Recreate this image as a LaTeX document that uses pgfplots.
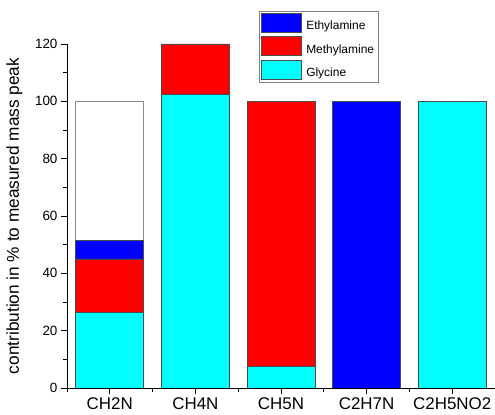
\documentclass[border=0pt]{standalone}
\usepackage{fontspec}
\setmainfont{Liberation Sans}
\usepackage{pgfplots}
\pgfplotsset{compat=1.18}
\definecolor{cglyc}{RGB}{0,255,255}
\definecolor{cmeth}{RGB}{255,0,0}
\definecolor{ceth}{RGB}{0,0,255}
\begin{document}
\begin{tikzpicture}
\path[use as bounding box] (-67bp,-27bp) rectangle (428bp,388bp);
\pgfplotsset{common/.style={
  at={(0,0)}, anchor=south west, scale only axis, width=428bp, height=344bp,
  xmin=-0.5, xmax=4.5, ymin=0, ymax=120, bar width=68bp}}
\begin{axis}[common, hide axis, ybar]
\addplot[fill=white, draw=black!45, line width=0.8bp] coordinates {(0,100)};
\end{axis}
\begin{axis}[common, ybar stacked,
  axis x line*=bottom, axis y line*=left,
  axis line style={line width=0.8bp},
  tick align=outside,
  xtick={0,1,2,3,4}, xticklabels={CH2N,CH4N,CH5N,C2H7N,C2H5NO2},
  minor xtick={-0.5,0.5,1.5,2.5,3.5,4.5},
  ytick={0,20,...,120}, minor ytick={10,30,...,110},
  major tick length=6bp, minor tick length=3.5bp,
  every tick/.style={black, line width=0.8bp},
  /pgf/number format/assume math mode=true,
  yticklabel style={font=\fontsize{13.5}{13.5}\selectfont},
  xticklabel style={font=\fontsize{17}{17}\selectfont},
  ylabel={contribution in \% to measured mass peak},
  ylabel style={font=\fontsize{17.3}{17.3}\selectfont, at={(rel axis cs:-0.1227,0.5)}, anchor=center},
  reverse legend,
  legend cell align=left,
  legend style={at={(0.4486,1.0968)}, anchor=north west, draw=black!50, fill=white,
    inner xsep=2bp, inner ysep=2bp, row sep=3bp,
    font=\fontsize{12}{12}\selectfont,
    /tikz/every odd column/.append style={column sep=2.5bp}},
  legend image code/.code={\draw[#1] (0bp,-6bp) rectangle (40bp,13bp);},
]
\addplot[fill=cglyc, draw=black!70, line width=0.6bp] coordinates {(0,26.5) (1,102.5) (2,7.5) (3,0) (4,100)};
\addplot[fill=cmeth, draw=black!70, line width=0.6bp] coordinates {(0,18.5) (1,17.5) (2,92.5) (3,0) (4,0)};
\addplot[fill=ceth, draw=black!70, line width=0.6bp] coordinates {(0,6.5) (1,0) (2,0) (3,100) (4,0)};
\legend{Glycine, Methylamine, Ethylamine}
\end{axis}
\end{tikzpicture}
\end{document}
